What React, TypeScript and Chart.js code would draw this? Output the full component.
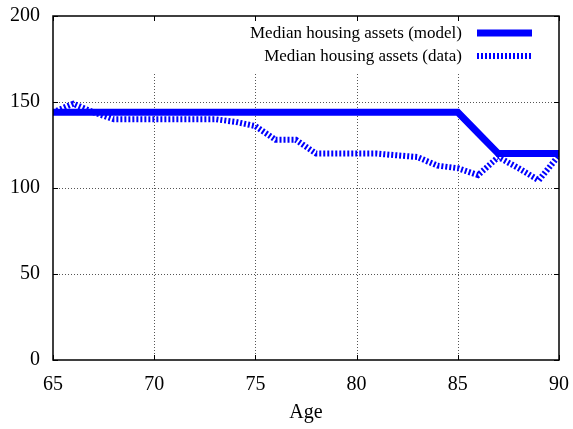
import React, { useEffect, useRef } from "react";
import { Chart, registerables } from "chart.js";

Chart.register(...registerables);

const ages = [65, 66, 67, 68, 69, 70, 71, 72, 73, 74, 75, 76, 77, 78, 79, 80, 81, 82, 83, 84, 85, 86, 87, 88, 89, 90];
const modelValues = [144, 144, 144, 144, 144, 144, 144, 144, 144, 144, 144, 144, 144, 144, 144, 144, 144, 144, 144, 144, 144, 132, 120, 120, 120, 120];
const dataValues = [144, 149, 144, 140, 140, 140, 140, 140, 140, 138.5, 136, 128, 128, 120, 120, 120, 120, 119, 118, 113, 111.5, 107.5, 118, 111.5, 104.5, 119];
const xTicks = [65, 70, 75, 80, 85, 90];
const yTicks = [0, 50, 100, 150, 200];
const seriesLabels = ["Median housing assets (model)", "Median housing assets (data)"];
const xTitle = "Age";

const FONT = "'Liberation Serif', 'DejaVu Serif', serif";

const framePlugin = {
  id: "gnuframe",
  beforeDatasetsDraw(chart: any) {
    const { ctx, chartArea } = chart;
    const { left, right, top, bottom } = chartArea;
    const xs = chart.scales.x;
    const ys = chart.scales.y;
    ctx.save();
    ctx.strokeStyle = "#555";
    ctx.lineWidth = 1;
    ctx.setLineDash([1, 2]);
    const gridTop = top + 58;
    xTicks.slice(1, -1).forEach((v) => {
      const x = Math.round(xs.getPixelForValue(v)) + 0.5;
      ctx.beginPath();
      ctx.moveTo(x, gridTop);
      ctx.lineTo(x, bottom);
      ctx.stroke();
    });
    yTicks.slice(1, -1).forEach((v) => {
      const y = Math.round(ys.getPixelForValue(v)) + 0.5;
      ctx.beginPath();
      ctx.moveTo(left, y);
      ctx.lineTo(right, y);
      ctx.stroke();
    });
    ctx.restore();
  },
  afterDatasetsDraw(chart: any) {
    const { ctx, chartArea } = chart;
    const { left, right, top, bottom } = chartArea;
    const xs = chart.scales.x;
    const ys = chart.scales.y;
    ctx.save();
    ctx.strokeStyle = "#000";
    ctx.lineWidth = 1.5;
    ctx.setLineDash([]);
    ctx.strokeRect(left, top, right - left, bottom - top);
    ctx.lineWidth = 1;
    const tl = 5;
    xTicks.forEach((v) => {
      const x = Math.round(xs.getPixelForValue(v)) + 0.5;
      ctx.beginPath();
      ctx.moveTo(x, bottom);
      ctx.lineTo(x, bottom - tl);
      ctx.moveTo(x, top);
      ctx.lineTo(x, top + tl);
      ctx.stroke();
    });
    yTicks.forEach((v) => {
      const y = Math.round(ys.getPixelForValue(v)) + 0.5;
      ctx.beginPath();
      ctx.moveTo(left, y);
      ctx.lineTo(left + tl, y);
      ctx.moveTo(right, y);
      ctx.lineTo(right - tl, y);
      ctx.stroke();
    });
    ctx.font = `17px ${FONT}`;
    ctx.fillStyle = "#000";
    ctx.textAlign = "right";
    ctx.textBaseline = "middle";
    const rows = [33, 56];
    const textRight = right - 97;
    const sx0 = right - 82;
    const sx1 = right - 27;
    seriesLabels.forEach((lab, i) => {
      const y = rows[i];
      ctx.fillText(lab, textRight, y + 1);
      ctx.strokeStyle = "#0000ff";
      ctx.lineWidth = i === 0 ? 7 : 6;
      ctx.lineCap = "butt";
      ctx.setLineDash(i === 0 ? [] : [2, 2]);
      ctx.beginPath();
      ctx.moveTo(sx0, y);
      ctx.lineTo(sx1, y);
      ctx.stroke();
    });
    ctx.restore();
  },
};

const zeroPad = (s: any) => {
  s.paddingTop = 0;
  s.paddingBottom = 0;
  s.paddingLeft = 0;
  s.paddingRight = 0;
};

export default function App() {
  const ref = useRef<HTMLCanvasElement | null>(null);
  useEffect(() => {
    document.body.style.margin = "0";
    const canvas = ref.current!;
    const chart = new Chart(canvas, {
      type: "line",
      data: {
        datasets: [
          {
            label: seriesLabels[0],
            data: ages.map((a, i) => ({ x: a, y: modelValues[i] })),
            borderColor: "#0000ff",
            borderWidth: 7,
            pointRadius: 0,
            tension: 0,
            borderCapStyle: "butt",
            borderJoinStyle: "miter",
          },
          {
            label: seriesLabels[1],
            data: ages.map((a, i) => ({ x: a, y: dataValues[i] })),
            borderColor: "#0000ff",
            borderWidth: 6,
            borderDash: [2, 2],
            pointRadius: 0,
            tension: 0,
            borderCapStyle: "butt",
          },
        ],
      },
      options: {
        animation: false,
        responsive: false,
        maintainAspectRatio: false,
        layout: { padding: { top: 16, right: 14, left: 0, bottom: 0 } },
        plugins: { legend: { display: false }, tooltip: { enabled: false } },
        scales: {
          x: {
            type: "linear",
            min: 65,
            max: 90,
            afterBuildTicks: (s: any) => {
              s.ticks = xTicks.map((v) => ({ value: v }));
            },
            afterFit: (s: any) => {
              s.height = 69;
              zeroPad(s);
            },
            grid: { display: false, drawTicks: false },
            border: { display: false },
            ticks: {
              color: "#000",
              font: { family: FONT, size: 20 },
              padding: 13,
              maxRotation: 0,
            },
            title: {
              display: true,
              text: xTitle,
              color: "#000",
              font: { family: FONT, size: 20 },
              padding: { top: 6 },
            },
          },
          y: {
            type: "linear",
            min: 0,
            max: 200,
            afterBuildTicks: (s: any) => {
              s.ticks = yTicks.map((v) => ({ value: v }));
            },
            afterFit: (s: any) => {
              s.width = 53;
              zeroPad(s);
            },
            grid: { display: false, drawTicks: false },
            border: { display: false },
            ticks: {
              color: "#000",
              font: { family: FONT, size: 20 },
              padding: 13,
            },
          },
        },
      },
      plugins: [framePlugin],
    } as any);
    return () => chart.destroy();
  }, []);
  return (
    <div style={{ position: "absolute", left: 0, top: 0, width: 573, height: 429, background: "#fff" }}>
      <canvas ref={ref} width={573} height={429} style={{ width: 573, height: 429 }} />
    </div>
  );
}
